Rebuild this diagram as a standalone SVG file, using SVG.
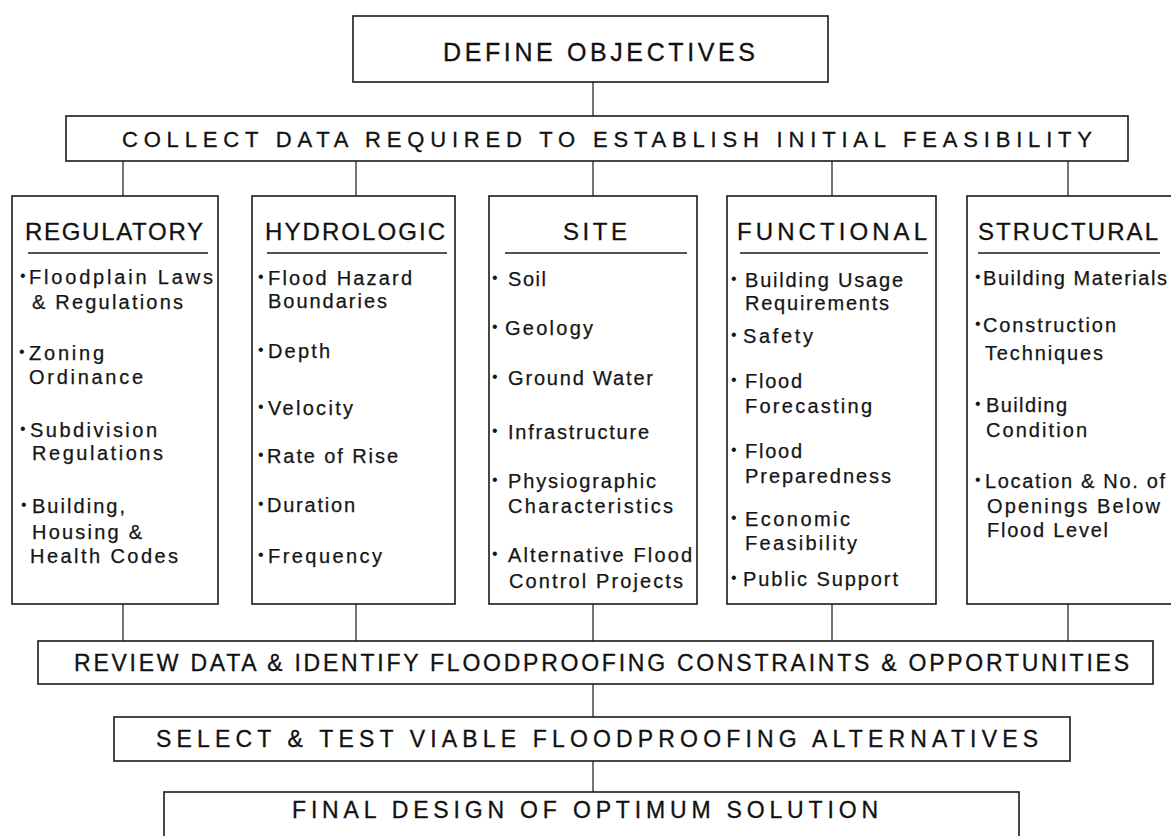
<svg xmlns="http://www.w3.org/2000/svg" width="1171" height="836" viewBox="0 0 1171 836">
<style>
.bg{fill:#ffffff}
.box{fill:#ffffff;stroke:#1a1a1a;stroke-width:1.6}
.conn line{stroke:#2a2a2a;stroke-width:1.3}
.ul{stroke:#1a1a1a;stroke-width:1.6}
.title{font-family:"Liberation Sans",Arial,sans-serif;fill:#111;stroke:#111;stroke-width:0.3}
.item{font-family:"Liberation Sans",Arial,sans-serif;font-size:20px;fill:#151515;stroke:#151515;stroke-width:0.25}
.b{font-family:"Liberation Sans",Arial,sans-serif;font-size:16px;fill:#151515}
</style>
<rect class="bg" x="0" y="0" width="1171" height="836"/>

<g id="connectors" class="conn">
  <line x1="593" y1="82" x2="593" y2="116"/>
  <line x1="123" y1="161" x2="123" y2="196"/>
  <line x1="356" y1="161" x2="356" y2="196"/>
  <line x1="593" y1="161" x2="593" y2="196"/>
  <line x1="832" y1="161" x2="832" y2="196"/>
  <line x1="1068" y1="161" x2="1068" y2="196"/>
  <line x1="123" y1="604" x2="123" y2="641"/>
  <line x1="356" y1="604" x2="356" y2="641"/>
  <line x1="593" y1="604" x2="593" y2="641"/>
  <line x1="832" y1="604" x2="832" y2="641"/>
  <line x1="1068" y1="604" x2="1068" y2="641"/>
  <line x1="593" y1="684" x2="593" y2="717"/>
  <line x1="593" y1="761" x2="593" y2="792"/>
</g>

<g id="define">
  <rect class="box" x="353" y="16" width="475" height="66"/>
  <text class="title" x="443" y="61" font-size="25" textLength="312" lengthAdjust="spacing">DEFINE OBJECTIVES</text>
</g>

<g id="collect">
  <rect class="box" x="66" y="116" width="1062" height="45"/>
  <text class="title" x="122" y="147" font-size="22" textLength="970" lengthAdjust="spacing">COLLECT DATA REQUIRED TO ESTABLISH INITIAL FEASIBILITY</text>
</g>

<g id="regulatory">
  <rect class="box" x="12" y="196" width="206" height="408"/>
  <text class="title" x="25" y="240" font-size="24" textLength="178" lengthAdjust="spacing">REGULATORY</text>
  <line class="ul" x1="28" y1="253" x2="208" y2="253"/>
  <text class="b" x="20" y="281">•</text>
  <text class="item" x="29" y="284" textLength="184" lengthAdjust="spacing">Floodplain Laws</text>
  <text class="item" x="32" y="309" textLength="151" lengthAdjust="spacing">&amp; Regulations</text>
  <text class="b" x="19" y="357">•</text>
  <text class="item" x="29" y="360" textLength="75" lengthAdjust="spacing">Zoning</text>
  <text class="item" x="29" y="384" textLength="114" lengthAdjust="spacing">Ordinance</text>
  <text class="b" x="20" y="434">•</text>
  <text class="item" x="30" y="437" textLength="127" lengthAdjust="spacing">Subdivision</text>
  <text class="item" x="32" y="460" textLength="131" lengthAdjust="spacing">Regulations</text>
  <text class="b" x="21" y="510">•</text>
  <text class="item" x="32" y="513" textLength="93" lengthAdjust="spacing">Building,</text>
  <text class="item" x="32" y="539" textLength="110" lengthAdjust="spacing">Housing &amp;</text>
  <text class="item" x="30" y="563" textLength="148" lengthAdjust="spacing">Health Codes</text>
</g>

<g id="hydrologic">
  <rect class="box" x="252" y="196" width="203" height="408"/>
  <text class="title" x="265" y="240" font-size="24" textLength="180" lengthAdjust="spacing">HYDROLOGIC</text>
  <line class="ul" x1="267" y1="253" x2="447" y2="253"/>
  <text class="b" x="258" y="282">•</text>
  <text class="item" x="268" y="285" textLength="144" lengthAdjust="spacing">Flood Hazard</text>
  <text class="item" x="268" y="308" textLength="119" lengthAdjust="spacing">Boundaries</text>
  <text class="b" x="258" y="355">•</text>
  <text class="item" x="268" y="358" textLength="62" lengthAdjust="spacing">Depth</text>
  <text class="b" x="258" y="412">•</text>
  <text class="item" x="268" y="415" textLength="85" lengthAdjust="spacing">Velocity</text>
  <text class="b" x="258" y="460">•</text>
  <text class="item" x="267" y="463" textLength="131" lengthAdjust="spacing">Rate of Rise</text>
  <text class="b" x="258" y="509">•</text>
  <text class="item" x="267" y="512" textLength="88" lengthAdjust="spacing">Duration</text>
  <text class="b" x="258" y="560">•</text>
  <text class="item" x="268" y="563" textLength="114" lengthAdjust="spacing">Frequency</text>
</g>

<g id="site">
  <rect class="box" x="489" y="196" width="208" height="408"/>
  <text class="title" x="563" y="240" font-size="24" textLength="64" lengthAdjust="spacing">SITE</text>
  <line class="ul" x1="505" y1="253" x2="687" y2="253"/>
  <text class="b" x="492" y="283">•</text>
  <text class="item" x="508" y="286" textLength="38" lengthAdjust="spacing">Soil</text>
  <text class="b" x="492" y="332">•</text>
  <text class="item" x="505" y="335" textLength="88" lengthAdjust="spacing">Geology</text>
  <text class="b" x="492" y="382">•</text>
  <text class="item" x="508" y="385" textLength="145" lengthAdjust="spacing">Ground Water</text>
  <text class="b" x="492" y="436">•</text>
  <text class="item" x="508" y="439" textLength="141" lengthAdjust="spacing">Infrastructure</text>
  <text class="b" x="492" y="485">•</text>
  <text class="item" x="508" y="488" textLength="148" lengthAdjust="spacing">Physiographic</text>
  <text class="item" x="508" y="513" textLength="165" lengthAdjust="spacing">Characteristics</text>
  <text class="b" x="492" y="559">•</text>
  <text class="item" x="508" y="562" textLength="184" lengthAdjust="spacing">Alternative Flood</text>
  <text class="item" x="509" y="588" textLength="174" lengthAdjust="spacing">Control Projects</text>
</g>

<g id="functional">
  <rect class="box" x="727" y="196" width="209" height="408"/>
  <text class="title" x="737" y="240" font-size="24" textLength="190" lengthAdjust="spacing">FUNCTIONAL</text>
  <line class="ul" x1="740" y1="253" x2="928" y2="253"/>
  <text class="b" x="731" y="284">•</text>
  <text class="item" x="745" y="287" textLength="158" lengthAdjust="spacing">Building Usage</text>
  <text class="item" x="745" y="310" textLength="144" lengthAdjust="spacing">Requirements</text>
  <text class="b" x="731" y="340">•</text>
  <text class="item" x="743" y="343" textLength="70" lengthAdjust="spacing">Safety</text>
  <text class="b" x="731" y="385">•</text>
  <text class="item" x="745" y="388" textLength="57" lengthAdjust="spacing">Flood</text>
  <text class="item" x="745" y="413" textLength="127" lengthAdjust="spacing">Forecasting</text>
  <text class="b" x="731" y="455">•</text>
  <text class="item" x="745" y="458" textLength="57" lengthAdjust="spacing">Flood</text>
  <text class="item" x="745" y="483" textLength="146" lengthAdjust="spacing">Preparedness</text>
  <text class="b" x="731" y="523">•</text>
  <text class="item" x="745" y="526" textLength="105" lengthAdjust="spacing">Economic</text>
  <text class="item" x="745" y="550" textLength="112" lengthAdjust="spacing">Feasibility</text>
  <text class="b" x="731" y="583">•</text>
  <text class="item" x="743" y="586" textLength="155" lengthAdjust="spacing">Public Support</text>
</g>

<g id="structural">
  <rect class="box" x="967" y="196" width="208" height="408"/>
  <text class="title" x="978" y="240" font-size="24" textLength="180" lengthAdjust="spacing">STRUCTURAL</text>
  <line class="ul" x1="978" y1="253" x2="1160" y2="253"/>
  <text class="b" x="975" y="282">•</text>
  <text class="item" x="983" y="285" textLength="184" lengthAdjust="spacing">Building Materials</text>
  <text class="b" x="975" y="329">•</text>
  <text class="item" x="983" y="332" textLength="133" lengthAdjust="spacing">Construction</text>
  <text class="item" x="985" y="360" textLength="118" lengthAdjust="spacing">Techniques</text>
  <text class="b" x="975" y="409">•</text>
  <text class="item" x="986" y="412" textLength="81" lengthAdjust="spacing">Building</text>
  <text class="item" x="986" y="437" textLength="101" lengthAdjust="spacing">Condition</text>
  <text class="b" x="975" y="485">•</text>
  <text class="item" x="985" y="488" textLength="180" lengthAdjust="spacing">Location &amp; No. of</text>
  <text class="item" x="987" y="513" textLength="173" lengthAdjust="spacing">Openings Below</text>
  <text class="item" x="987" y="537" textLength="121" lengthAdjust="spacing">Flood Level</text>
</g>

<g id="review">
  <rect class="box" x="38" y="641" width="1115" height="43"/>
  <text class="title" x="74" y="671" font-size="23" stroke-width="0.5" textLength="1055" lengthAdjust="spacing">REVIEW DATA &amp; IDENTIFY FLOODPROOFING CONSTRAINTS &amp; OPPORTUNITIES</text>
</g>

<g id="select">
  <rect class="box" x="114" y="717" width="956" height="44"/>
  <text class="title" x="156" y="747" font-size="23" textLength="882" lengthAdjust="spacing">SELECT &amp; TEST VIABLE FLOODPROOFING ALTERNATIVES</text>
</g>

<g id="final">
  <rect class="box" x="164" y="792" width="855" height="60"/>
  <text class="title" x="292" y="818" font-size="23" textLength="586" lengthAdjust="spacing">FINAL DESIGN OF OPTIMUM SOLUTION</text>
</g>
</svg>
